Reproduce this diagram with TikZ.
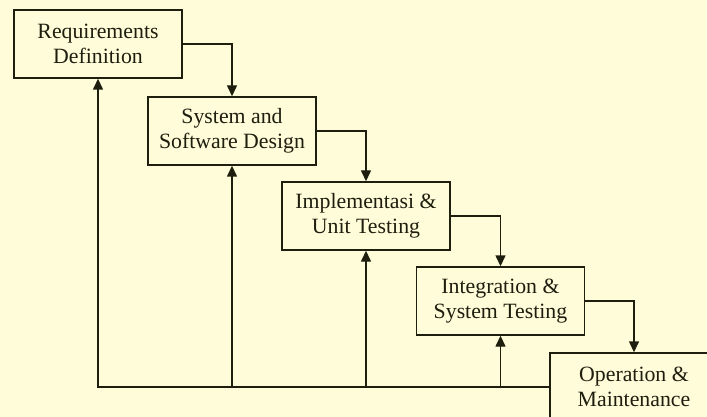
\documentclass[tikz,border=0pt]{standalone}
\usepackage{fontspec}
\setmainfont{Liberation Serif}
\usetikzlibrary{arrows.meta}
\definecolor{bgcream}{RGB}{255,252,217}
\definecolor{linec}{RGB}{30,30,15}
\tikzset{
  phase/.style={draw=linec, line width=1.4pt, minimum width=168pt, minimum height=68pt,
    align=center, inner sep=0pt, font=\fontsize{21.8}{25}\selectfont, text=linec},
  flow/.style={draw=linec, line width=1.4pt, -{Triangle[width=10pt,length=11pt]}}
}
\begin{document}
\begin{tikzpicture}[x=1pt,y=-1pt]
\fill[bgcream] (0,0) rectangle (707,417);
\useasboundingbox (0,0) rectangle (707,417);
\clip (0,0) rectangle (707,417);
\node[phase] (req) at (98,44) {Requirements\\Definition};
\node[phase] (des) at (232,131) {System and\\Software Design};
\node[phase] (imp) at (366,216) {Implementasi \&\\Unit Testing};
\node[phase] (int) at (500.5,301) {Integration \&\\System Testing};
\node[phase] (ops) at (634,387) {Operation \&\\Maintenance};
\draw[flow] (req.east) -| (des.north);
\draw[flow] (des.east) -| (imp.north);
\draw[flow] (imp.east) -| (int.north);
\draw[flow] (int.east) -| (ops.north);
\draw[flow] (ops.west) -| (req.south);
\draw[flow] (des.south |- ops.west) -- (des.south);
\draw[flow] (imp.south |- ops.west) -- (imp.south);
\draw[flow] (int.south |- ops.west) -- (int.south);
\end{tikzpicture}
\end{document}
